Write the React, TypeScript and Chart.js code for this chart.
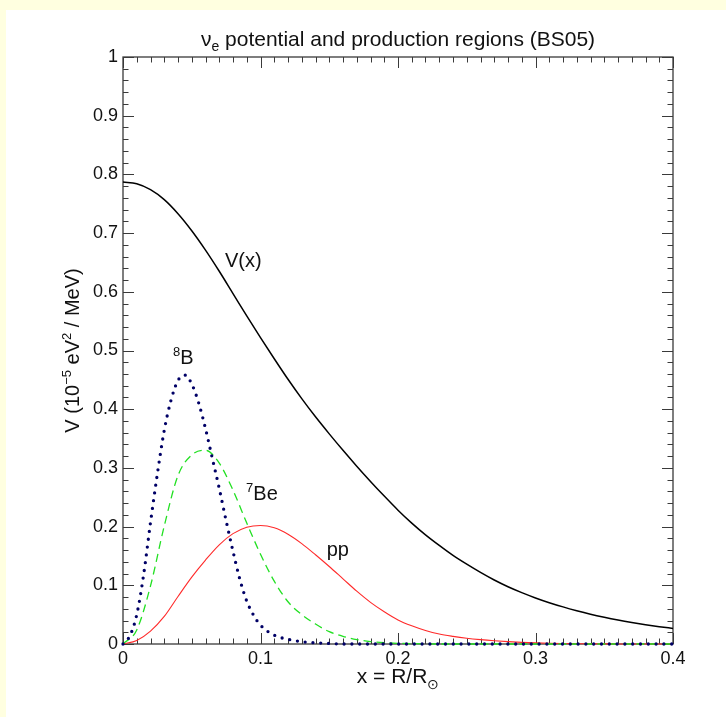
import React, { useEffect, useRef } from 'react';
import { Chart, registerables } from 'chart.js';

Chart.register(...registerables);

// ---------- data ----------
const xGrid = [
  0, 0.01, 0.02, 0.03, 0.04, 0.05, 0.06, 0.07, 0.08, 0.09,
  0.10, 0.11, 0.12, 0.13, 0.14, 0.15, 0.16, 0.17, 0.18, 0.19,
  0.20, 0.21, 0.22, 0.23, 0.24, 0.25, 0.26, 0.27, 0.28, 0.29,
  0.30, 0.31, 0.32, 0.33, 0.34, 0.35, 0.36, 0.37, 0.38, 0.39, 0.40,
];

const potentialV = [
  0.787, 0.784, 0.774, 0.757, 0.733, 0.704, 0.671, 0.635, 0.597, 0.559,
  0.522, 0.486, 0.451, 0.418, 0.387, 0.358, 0.330, 0.303, 0.277, 0.252,
  0.228, 0.206, 0.186, 0.168, 0.151, 0.136, 0.122, 0.109, 0.0975, 0.0875,
  0.0785, 0.0704, 0.0632, 0.0567, 0.0508, 0.0456, 0.0409, 0.0367, 0.0329, 0.0295, 0.0265,
];

const ppFlux = [
  0, 0.006, 0.022, 0.047, 0.081, 0.114, 0.143, 0.169, 0.188, 0.199,
  0.202, 0.198, 0.187, 0.171, 0.152, 0.132, 0.111, 0.090, 0.071, 0.055,
  0.041, 0.031, 0.023, 0.017, 0.013, 0.0098, 0.0074, 0.0055, 0.004, 0.0028,
  0.0019, 0.0012, 0.0008, 0.0005, 0.0003, 0.0002, 0.0001, 0, 0, 0, 0,
];

const be7Flux = [
  0, 0.024, 0.099, 0.201, 0.287, 0.322, 0.330, 0.308, 0.262, 0.206,
  0.153, 0.107, 0.072, 0.050, 0.034, 0.021, 0.013, 0.0075, 0.0042, 0.0023,
  0.0012, 0.0006, 0.0003, 0, 0, 0, 0, 0, 0, 0,
  0, 0, 0, 0, 0, 0, 0, 0, 0, 0, 0,
];

const xB8 = [
  0, 0.005, 0.01, 0.015, 0.02, 0.025, 0.03, 0.035, 0.04, 0.045,
  0.05, 0.055, 0.06, 0.065, 0.07, 0.075, 0.08, 0.085, 0.09, 0.095,
  0.10, 0.11, 0.12, 0.13, 0.14, 0.15, 0.16, 0.17, 0.18, 0.19,
  0.20, 0.21, 0.22, 0.23, 0.24, 0.25, 0.26, 0.27, 0.28, 0.29,
  0.30, 0.31, 0.32, 0.33, 0.34, 0.35, 0.36, 0.37, 0.38, 0.39, 0.40,
];

const b8Flux = [
  0, 0.014, 0.050, 0.118, 0.207, 0.290, 0.364, 0.416, 0.449, 0.458,
  0.443, 0.411, 0.367, 0.316, 0.265, 0.210, 0.158, 0.110, 0.073, 0.049,
  0.032, 0.015, 0.008, 0.004, 0.002, 0.001, 0, 0, 0, 0,
  0, 0, 0, 0, 0, 0, 0, 0, 0, 0,
  0, 0, 0, 0, 0, 0, 0, 0, 0, 0, 0,
];

const titleText = ' potential and production regions (BS05)';

// ---------- styling ----------
const FONT = '"Liberation Sans", Arial, Helvetica, sans-serif';
const AXIS_COLOR = '#3a3a3a';
const TEXT_COLOR = '#111';

type Part = { t: string; s: number; dy?: number };

const curveLabels: { parts: Part[]; x: number; y: number }[] = [
  { parts: [{ t: 'V(x)', s: 20 }], x: 0.0742, y: 0.642 },
  { parts: [{ t: '8', s: 13, dy: -8 }, { t: 'B', s: 20 }], x: 0.0364, y: 0.477 },
  { parts: [{ t: '7', s: 13, dy: -8 }, { t: 'Be', s: 20 }], x: 0.0895, y: 0.2457 },
  { parts: [{ t: 'pp', s: 20 }], x: 0.1481, y: 0.1494 },
];

function pts(xs: number[], ys: number[]) {
  return xs.map((x, i) => ({ x, y: ys[i] }));
}

function fmtTick(v: any) {
  return String(Math.round(Number(v) * 10) / 10);
}

function drawRich(ctx: CanvasRenderingContext2D, parts: Part[], x: number, y: number, align: 'left' | 'center') {
  let w = 0;
  parts.forEach((p) => {
    ctx.font = `${p.s}px ${FONT}`;
    w += ctx.measureText(p.t).width;
  });
  let cx = align === 'center' ? x - w / 2 : x;
  ctx.textAlign = 'left';
  ctx.textBaseline = 'alphabetic';
  parts.forEach((p) => {
    ctx.font = `${p.s}px ${FONT}`;
    ctx.fillText(p.t, cx, y + (p.dy || 0));
    cx += ctx.measureText(p.t).width;
  });
}

const framePlugin = {
  id: 'idlFrame',
  beforeDatasetsDraw(chart: any) {
    const { ctx, chartArea } = chart;
    const { left, right, top, bottom } = chartArea;
    const xs = chart.scales.x;
    const ys = chart.scales.y;
    ctx.save();
    ctx.strokeStyle = AXIS_COLOR;
    ctx.lineWidth = 1.3;
    ctx.strokeRect(left, top, right - left, bottom - top);
    ctx.lineWidth = 1;
    ctx.beginPath();
    for (let i = 0; i <= 40; i++) {
      const px = Math.round(xs.getPixelForValue(i / 100)) + 0.5;
      const len = i % 10 === 0 ? 11 : 5.5;
      ctx.moveTo(px, bottom);
      ctx.lineTo(px, bottom - len);
      ctx.moveTo(px, top);
      ctx.lineTo(px, top + len);
    }
    for (let i = 0; i <= 50; i++) {
      const py = Math.round(ys.getPixelForValue(i / 50)) + 0.5;
      const len = i % 5 === 0 ? 11 : 5.5;
      ctx.moveTo(left, py);
      ctx.lineTo(left + len, py);
      ctx.moveTo(right, py);
      ctx.lineTo(right - len, py);
    }
    ctx.stroke();
    ctx.restore();
  },
  afterDraw(chart: any) {
    const { ctx, chartArea } = chart;
    const { left, right, top, bottom } = chartArea;
    const xs = chart.scales.x;
    const ys = chart.scales.y;
    const cx = (left + right) / 2;
    ctx.save();
    ctx.fillStyle = TEXT_COLOR;
    // title
    drawRich(ctx, [{ t: 'ν', s: 21 }, { t: 'e', s: 14, dy: 5 }, { t: titleText, s: 21 }], cx, 46, 'center');
    // x title
    drawRich(ctx, [{ t: 'x = R/R', s: 21 }, { t: '⊙', s: 14, dy: 6 }], cx, 683, 'center');
    // y title
    ctx.save();
    ctx.translate(79, (top + bottom) / 2);
    ctx.rotate(-Math.PI / 2);
    drawRich(
      ctx,
      [
        { t: 'V (10', s: 20 },
        { t: '−5', s: 13, dy: -8 },
        { t: ' eV', s: 20 },
        { t: '2', s: 13, dy: -8 },
        { t: ' / MeV)', s: 20 },
      ],
      0,
      0,
      'center'
    );
    ctx.restore();
    // curve labels
    curveLabels.forEach((l) => {
      drawRich(ctx, l.parts, xs.getPixelForValue(l.x), ys.getPixelForValue(l.y), 'left');
    });
    ctx.restore();
  },
};

export default function App() {
  const canvasRef = useRef<HTMLCanvasElement | null>(null);

  useEffect(() => {
    const canvas = canvasRef.current;
    if (!canvas) return;
    const chart = new Chart(canvas, {
      type: 'line',
      data: {
        datasets: [
          {
            label: '8B',
            data: pts(xB8, b8Flux),
            borderColor: '#000066',
            borderWidth: 3.3,
            borderDash: [0, 7.8],
            borderCapStyle: 'round',
            pointRadius: 0,
            cubicInterpolationMode: 'monotone',
            fill: false,
            clip: false,
          },
          {
            label: '7Be',
            data: pts(xGrid, be7Flux),
            borderColor: '#22e022',
            borderWidth: 1.3,
            borderDash: [8, 5],
            pointRadius: 0,
            cubicInterpolationMode: 'monotone',
            fill: false,
            clip: false,
          },
          {
            label: 'pp',
            data: pts(xGrid, ppFlux),
            borderColor: '#ff2a2a',
            borderWidth: 1.1,
            pointRadius: 0,
            cubicInterpolationMode: 'monotone',
            fill: false,
            clip: false,
          },
          {
            label: 'V(x)',
            data: pts(xGrid, potentialV),
            borderColor: '#000000',
            borderWidth: 1.5,
            pointRadius: 0,
            cubicInterpolationMode: 'monotone',
            fill: false,
            clip: false,
          },
        ],
      },
      options: {
        animation: false,
        responsive: false,
        devicePixelRatio: 1,
        layout: { padding: { left: 0, top: 57, right: 53, bottom: 0 } },
        plugins: {
          legend: { display: false },
          tooltip: { enabled: false },
          title: { display: false },
        },
        events: [],
        scales: {
          x: {
            type: 'linear',
            min: 0,
            max: 0.4,
            grid: { display: false, drawTicks: false },
            border: { display: false },
            ticks: {
              stepSize: 0.1,
              maxRotation: 0,
              padding: 4,
              color: TEXT_COLOR,
              font: { size: 18, family: FONT },
              callback: fmtTick,
            },
            afterFit: (s: any) => {
              s.height = 73;
            },
          },
          y: {
            type: 'linear',
            min: 0,
            max: 1,
            grid: { display: false, drawTicks: false },
            border: { display: false },
            ticks: {
              stepSize: 0.1,
              padding: 5,
              color: TEXT_COLOR,
              font: { size: 18, family: FONT },
              callback: fmtTick,
            },
            afterFit: (s: any) => {
              s.width = 123;
            },
          },
        },
      } as any,
      plugins: [framePlugin],
    });
    return () => chart.destroy();
  }, []);

  return (
    <div style={{ position: 'absolute', left: 0, top: 0, width: 726, height: 717, background: '#FFFFE0', overflow: 'hidden' }}>
      <div style={{ position: 'absolute', left: 6, top: 10, right: 0, bottom: 0, background: '#ffffff' }} />
      <canvas ref={canvasRef} width={726} height={717} style={{ position: 'absolute', left: 0, top: 0, width: 726, height: 717 }} />
    </div>
  );
}
